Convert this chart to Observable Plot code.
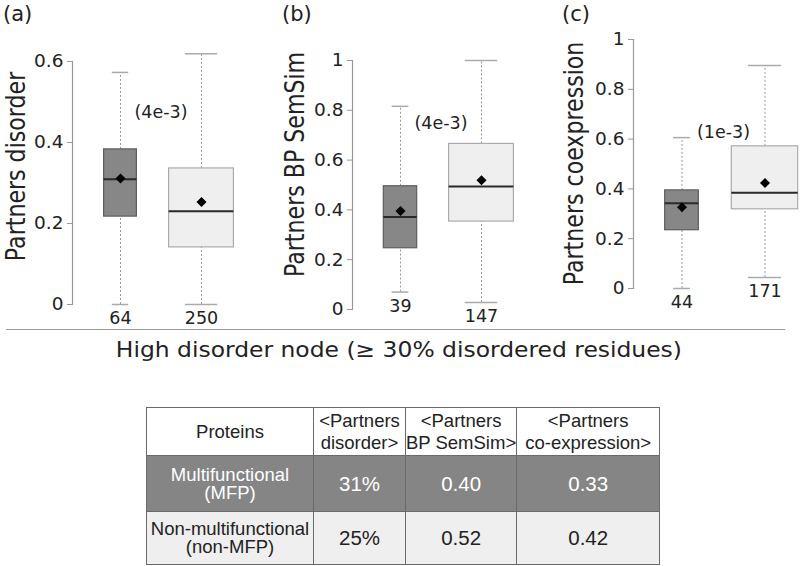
<!DOCTYPE html>
<html>
<head>
<meta charset="utf-8">
<script src="https://cdn.jsdelivr.net/npm/d3@7"></script>
<script src="https://cdn.jsdelivr.net/npm/@observablehq/plot@0.6"></script>
<style>
  body { margin: 0; background: #fff; }
  #root { position: relative; width: 800px; height: 566px; overflow: hidden; background: #fff; font-family: "DejaVu Sans", sans-serif; color: #222; }
  .panel { position: absolute; top: 0; }
  .tag { position: absolute; font-size: 21px; line-height: 1; }
  #sep { position: absolute; left: 6px; top: 329px; width: 779px; height: 0; border-top: 1.5px solid #999; }
  #xtitle { position: absolute; left: 0; width: 798px; top: 336px; text-align: center; font-size: 21px; line-height: 28px; }
  #xtitle span { display: inline-block; transform: scaleX(1.115); transform-origin: center; }
  table { position: absolute; left: 146px; top: 407px; border-collapse: collapse; font-family: "Liberation Sans", Arial, sans-serif; table-layout: fixed; }
  td { border: 1px solid #6a6a6a; text-align: center; padding: 0; white-space: pre; overflow: visible; }
</style>
</head>
<body>
<div id="root"></div>
<script>
// ---------------- data ----------------
const panelTags = ["(a)", "(b)", "(c)"];
const yTitles = ["Partners disorder", "Partners BP SemSim", "Partners coexpression"];
const groups = ["MFP", "non-MFP"];
const nCounts = [[64, 250], [39, 147], [44, 171]];
const lows    = [[0.0, 0.0],   [0.07, 0.028], [0.0, 0.044]];
const q1s     = [[0.217, 0.141], [0.246, 0.353], [0.234, 0.318]];
const medians = [[0.309, 0.230], [0.371, 0.494], [0.342, 0.385]];
const q3s     = [[0.383, 0.336], [0.495, 0.665], [0.394, 0.571]];
const highs   = [[0.573, 0.619], [0.816, 1.0],  [0.606, 0.896]];
const means   = [[0.311, 0.253], [0.396, 0.519], [0.326, 0.424]];
const pValues = ["(4e-3)", "(4e-3)", "(1e-3)"];
const yTicks = [[0, 0.2, 0.4, 0.6], [0, 0.2, 0.4, 0.6, 0.8, 1], [0, 0.2, 0.4, 0.6, 0.8, 1]];
const xTitle = "High disorder node (\u2265 30% disordered residues)";

const tableHeader = ["Proteins", "<Partners\ndisorder>", "<Partners\nBP SemSim>", "<Partners\nco-expression>"];
const tableRowLabels = ["Multifunctional\n(MFP)", "Non-multifunctional\n(non-MFP)"];
const tableValues = [["31%", "0.40", "0.33"], ["25%", "0.52", "0.42"]];

// ---------------- styles / layout ----------------
const boxFill = {"MFP": "#878787", "non-MFP": "#efefef"};
const boxStroke = {"MFP": "#5e5e5e", "non-MFP": "#ababab"};
const layout = [
  {left: 0,   width: 260, axisX: 72,  top: 61, bottom: 304, x0: 33,   unit: 81, pDy: 51,  tdx: -56, tdy: -16.5, tagX: 3},
  {left: 260, width: 270, axisX: 92,  top: 60, bottom: 309, x0: 33,   unit: 81, pDy: 63,  tdx: -57, tdy: -20.5, tagX: 22},
  {left: 530, width: 270, axisX: 103, top: 39, bottom: 288, x0: 34.5, unit: 83, pDy: 93,  tdx: -59, tdy: -0.5,  tagX: 32}
];
const H = 330;
const titleCondense = 0.85;

const root = document.getElementById("root");

panelTags.forEach((tag, i) => {
  const L = layout[i];
  const rows = groups.map((g, j) => ({
    g, pos: j + 1, n: nCounts[i][j], lo: lows[i][j], q1: q1s[i][j], med: medians[i][j],
    q3: q3s[i][j], hi: highs[i][j], mean: means[i][j]
  }));
  const nmax = d3.max(rows, d => d.n);
  rows.forEach(d => d.hw = 0.4 * Math.sqrt(d.n / nmax));
  const midPos = d3.mean(rows, d => d.pos);

  const chart = Plot.plot({
    width: L.width, height: H,
    marginLeft: L.axisX, marginTop: L.top, marginBottom: H - L.bottom, marginRight: 0,
    x: {type: "linear", domain: [0, 3], range: [L.axisX - L.x0, L.axisX - L.x0 + 3 * L.unit], axis: null},
    y: {domain: [0, d3.max(yTicks[i])], axis: null},
    color: {type: "identity"},
    style: {fontFamily: "DejaVu Sans, sans-serif", fontSize: "18.5px", color: "#222", background: "transparent", overflow: "visible"},
    marks: [
      Plot.axisY(yTicks[i], {tickSize: 5, tickPadding: 4, tickFormat: d => String(d), stroke: "#999", fill: "#222", fontSize: 18.5}),
      Plot.frame({anchor: "left", stroke: "#999", strokeWidth: 1.2}),
      Plot.ruleX(rows, {x: "pos", y1: "q3", y2: "hi", stroke: "#999", strokeDasharray: "2,2"}),
      Plot.ruleX(rows, {x: "pos", y1: "lo", y2: "q1", stroke: "#999", strokeDasharray: "2,2"}),
      Plot.ruleY(rows, {y: "hi", x1: d => d.pos - d.hw / 2, x2: d => d.pos + d.hw / 2, stroke: "#aaa", strokeWidth: 1.5}),
      Plot.ruleY(rows, {y: "lo", x1: d => d.pos - d.hw / 2, x2: d => d.pos + d.hw / 2, stroke: "#aaa", strokeWidth: 1.5}),
      Plot.rect(rows, {x1: d => d.pos - d.hw, x2: d => d.pos + d.hw, y1: "q1", y2: "q3", fill: d => boxFill[d.g], stroke: d => boxStroke[d.g], strokeWidth: 1.2}),
      Plot.ruleY(rows, {y: "med", x1: d => d.pos - d.hw, x2: d => d.pos + d.hw, stroke: "#2a2a2a", strokeWidth: 2}),
      Plot.dot(rows, {x: "pos", y: "mean", symbol: "diamond2", r: 4.5, fill: "#000", stroke: "none"}),
      Plot.text(rows, {x: "pos", y: "lo", text: d => String(d.n), dy: 14, fontSize: 17.5, fill: "#222"}),
      Plot.text([pValues[i]], {x: () => midPos, frameAnchor: "top", lineAnchor: "middle", dy: L.pDy, text: d => d, fontSize: 17.5, fill: "#222"}),
      Plot.text([yTitles[i]], {frameAnchor: "left", textAnchor: "middle", lineAnchor: "middle", rotate: -90, dx: L.tdx, dy: L.tdy, text: d => d, fontSize: 26, fill: "#222"})
    ]
  });
  const wrap = document.createElement("div");
  wrap.className = "panel";
  wrap.style.left = L.left + "px";
  wrap.appendChild(chart);
  root.appendChild(wrap);

  // condense the y-axis title glyphs (narrow letterforms as in the reference)
  chart.querySelectorAll("text").forEach(el => {
    if (el.textContent === yTitles[i]) {
      const len = el.getComputedTextLength();
      el.setAttribute("textLength", (len * titleCondense).toFixed(1));
      el.setAttribute("lengthAdjust", "spacingAndGlyphs");
    }
  });

  const t = document.createElement("div");
  t.className = "tag";
  t.textContent = tag;
  t.style.left = (L.left + L.tagX) + "px";
  t.style.top = "4px";
  root.appendChild(t);
});

const sep = document.createElement("div");
sep.id = "sep";
root.appendChild(sep);

const xt = document.createElement("div");
xt.id = "xtitle";
const xs = document.createElement("span");
xs.textContent = xTitle;
xt.appendChild(xs);
root.appendChild(xt);

// table
const colWidths = [167, 92, 107, 143];
const rowHeights = [48, 56, 53];
const rowStyles = [
  {bg: "#ffffff", color: "#222"},
  {bg: "#858585", color: "#ffffff"},
  {bg: "#efefef", color: "#222"}
];
const table = document.createElement("table");
const cg = document.createElement("colgroup");
colWidths.forEach(w => { const c = document.createElement("col"); c.style.width = w + "px"; cg.appendChild(c); });
table.appendChild(cg);
const allRows = [tableHeader, ...tableRowLabels.map((lab, r) => [lab, ...tableValues[r]])];
allRows.forEach((cells, r) => {
  const tr = document.createElement("tr");
  tr.style.height = rowHeights[r] + "px";
  cells.forEach((txt, c) => {
    const td = document.createElement("td");
    td.textContent = txt;
    td.style.background = rowStyles[r].bg;
    td.style.color = rowStyles[r].color;
    if (r === 0) { td.style.fontSize = "18.5px"; td.style.lineHeight = "22px"; }
    else if (c === 0) { td.style.fontSize = "18.5px"; td.style.lineHeight = "18px"; }
    else { td.style.fontSize = "20.5px"; }
    tr.appendChild(td);
  });
  table.appendChild(tr);
});
root.appendChild(table);
</script>
</body>
</html>
